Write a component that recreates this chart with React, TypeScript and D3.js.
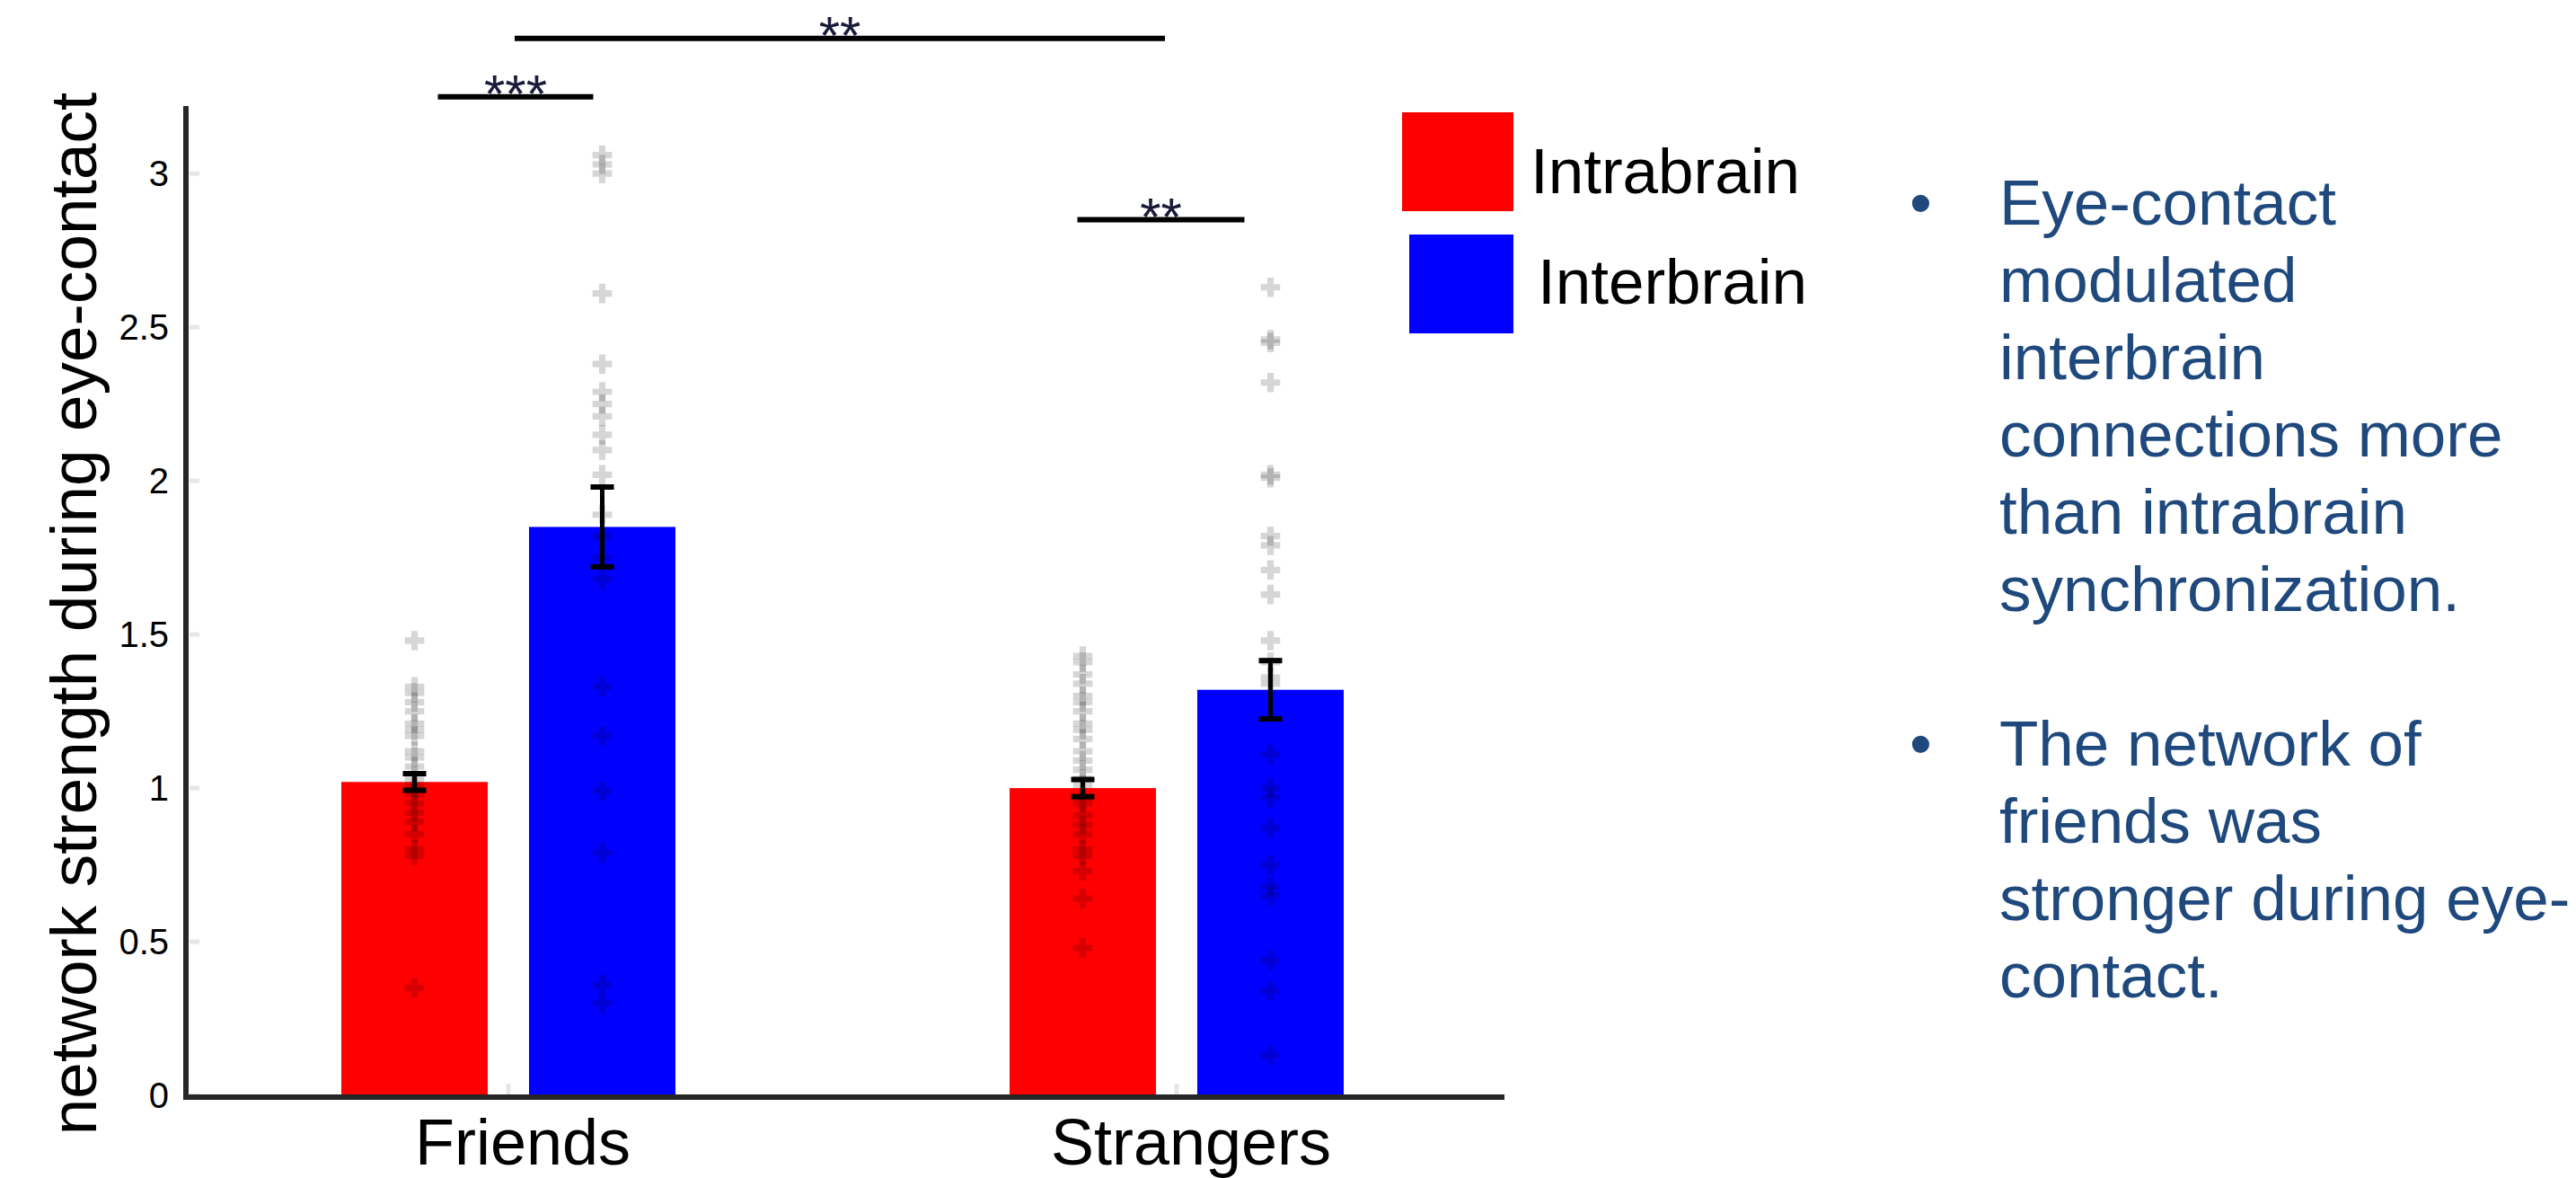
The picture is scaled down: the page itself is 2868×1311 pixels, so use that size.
import React from 'react';
import * as d3 from 'd3';

const categories = ['Friends', 'Strangers'];
const seriesNames = ['Intrabrain', 'Interbrain'];
const seriesColors = ['#ff0000', '#0000ff'];

// bar means and error (sem) per category, one array per series
const intraMeans = [1.02, 1.0];
const interMeans = [1.85, 1.32];
const intraErr = [0.027, 0.028];
const interErr = [0.13, 0.095];

// individual points
const friendsIntraPts = [1.48, 1.33, 1.31, 1.28, 1.25, 1.21, 1.19, 1.17, 1.12, 1.1, 1.07, 1.04, 1.02, 1.0, 0.98, 0.95, 0.92, 0.89, 0.85, 0.8, 0.78, 0.35];
const friendsInterPts = [3.06, 3.03, 3.0, 2.61, 2.38, 2.29, 2.25, 2.21, 2.15, 2.1, 2.02, 1.89, 1.82, 1.75, 1.68, 1.33, 1.17, 0.99, 0.79, 0.36, 0.3];
const strangersIntraPts = [1.43, 1.41, 1.37, 1.34, 1.3, 1.28, 1.25, 1.21, 1.19, 1.16, 1.12, 1.09, 1.06, 1.03, 1.01, 0.97, 0.95, 0.91, 0.88, 0.85, 0.8, 0.78, 0.73, 0.64, 0.48];
const strangersInterPts = [2.63, 2.46, 2.45, 2.32, 2.02, 2.01, 1.82, 1.79, 1.71, 1.63, 1.48, 1.41, 1.36, 1.34, 1.11, 1.0, 0.97, 0.87, 0.75, 0.68, 0.65, 0.44, 0.34, 0.13];

const yTicks = [0, 0.5, 1, 1.5, 2, 2.5, 3];

// significance brackets: endpoints as [category, series] (series null = group centre)
const brackets = [
  { from: ['Friends', 'Intrabrain'], to: ['Friends', 'Interbrain'], level: 3.25, label: '***' },
  { from: ['Friends', null], to: ['Strangers', null], level: 3.44, label: '**' },
  { from: ['Strangers', 'Intrabrain'], to: ['Strangers', 'Interbrain'], level: 2.85, label: '**' },
];
// how far each bracket end is pulled in from its anchor (px)
const bracketInsets = [[26, 10], [7, 13], [-6, 29]];

const bulletOne = ['Eye-contact', 'modulated', 'interbrain', 'connections more', 'than intrabrain', 'synchronization.'];
const bulletTwo = ['The network of', 'friends was', 'stronger during eye-', 'contact.'];

const W = 2868;
const H = 1311;
const font = '"Liberation Sans", Arial, Helvetica, sans-serif';

export default function App() {
  const axisLeft = 207;
  const axisRight = 1675;
  const axisBottom = 1221;
  const axisTop = 118;

  const y = d3.scaleLinear().domain([0, 3.22]).range([1219, axisTop]);
  const x0 = d3.scaleBand<string>().domain(categories).range([194, 1682]).paddingInner(0.5).paddingOuter(0.25);
  const x1 = d3.scaleBand<string>().domain(seriesNames).range([0, x0.bandwidth()]).paddingInner(0.22).paddingOuter(0);

  const means = [intraMeans, interMeans];
  const errs = [intraErr, interErr];
  const pts: Record<string, number[][]> = {
    Friends: [friendsIntraPts, friendsInterPts],
    Strangers: [strangersIntraPts, strangersInterPts],
  };

  const barCenter = (c: string, s: string) => (x0(c) ?? 0) + (x1(s) ?? 0) + x1.bandwidth() / 2;
  const groupCenter = (c: string) => (x0(c) ?? 0) + x0.bandwidth() / 2;
  const endX = (e: (string | null)[]) => (e[1] ? barCenter(e[0] as string, e[1]) : groupCenter(e[0] as string));

  const cross = d3.symbol().type(d3.symbolCross).size(260)();

  return (
    <div style={{ position: 'absolute', left: 0, top: 0 }}>
      <svg width={W} height={H} style={{ display: 'block', background: '#fff' }} fontFamily={font}>
        {/* bars */}
        {categories.map((c, ci) =>
          seriesNames.map((s, si) => (
            <rect
              key={c + s}
              x={(x0(c) ?? 0) + (x1(s) ?? 0)}
              y={y(means[si][ci])}
              width={x1.bandwidth()}
              height={y(0) - y(means[si][ci])}
              fill={seriesColors[si]}
            />
          ))
        )}

        {/* points */}
        {categories.map((c) =>
          seriesNames.map((s, si) =>
            pts[c][si].map((v, i) => (
              <path
                key={c + s + i}
                d={cross as string}
                transform={`translate(${barCenter(c, s)},${y(v)})`}
                fill="#000"
                fillOpacity={0.16}
              />
            ))
          )
        )}

        {/* error bars */}
        {categories.map((c, ci) =>
          seriesNames.map((s, si) => {
            const cx = barCenter(c, s);
            const top = y(means[si][ci] + errs[si][ci]);
            const bot = y(means[si][ci] - errs[si][ci]);
            return (
              <g key={'e' + c + s} stroke="#000">
                <line x1={cx} x2={cx} y1={top} y2={bot} strokeWidth={5} />
                <line x1={cx - 13} x2={cx + 13} y1={top} y2={top} strokeWidth={6} />
                <line x1={cx - 13} x2={cx + 13} y1={bot} y2={bot} strokeWidth={6} />
              </g>
            );
          })
        )}

        {/* axes */}
        {yTicks.map((t) => (
          <g key={'yt' + t}>
            <line x1={axisLeft + 4} x2={axisLeft + 15} y1={y(t)} y2={y(t)} stroke="#e6e6e6" strokeWidth={5} />
            <text x={188} y={y(t)} dy="0.35em" textAnchor="end" fontSize={40} fill="#000">
              {d3.format('')(t)}
            </text>
          </g>
        ))}
        {categories.map((c) => (
          <g key={'xt' + c}>
            <line x1={groupCenter(c)} x2={groupCenter(c)} y1={axisBottom - 15} y2={axisBottom - 3} stroke="#e6e6e6" strokeWidth={5} />
            <text x={groupCenter(c) + 16} y={1296} textAnchor="middle" fontSize={72} fill="#000">
              {c}
            </text>
          </g>
        ))}
        <line x1={axisLeft} x2={axisLeft} y1={axisTop} y2={axisBottom + 3} stroke="#262626" strokeWidth={6} />
        <line x1={axisLeft - 3} x2={axisRight} y1={axisBottom} y2={axisBottom} stroke="#262626" strokeWidth={6} />

        <text transform="translate(107,683) rotate(-90)" textAnchor="middle" fontSize={73} fill="#000">
          network strength during eye-contact
        </text>

        {/* significance brackets */}
        {brackets.map((b, i) => {
          const xa = endX(b.from) + bracketInsets[i][0];
          const xb = endX(b.to) - bracketInsets[i][1];
          const yy = y(b.level);
          return (
            <g key={'b' + i}>
              <line x1={xa} x2={xb} y1={yy} y2={yy} stroke="#000" strokeWidth={6} />
              <text x={(xa + xb) / 2} y={yy + 17} textAnchor="middle" fontSize={60} fill="#1a1a3a">
                {b.label}
              </text>
            </g>
          );
        })}

        {/* legend */}
        <rect x={1561} y={125} width={124} height={110} fill={seriesColors[0]} />
        <rect x={1569} y={261} width={116} height={110} fill={seriesColors[1]} />
        <text x={1704} y={215} fontSize={71} fill="#000">{seriesNames[0]}</text>
        <text x={1712} y={338} fontSize={71} fill="#000">{seriesNames[1]}</text>

        {/* bullet text */}
        <g fill="#1F497D" fontSize={71}>
          <text x={2126} y={250}>•</text>
          {bulletOne.map((l, i) => (
            <text key={'a' + i} x={2226} y={250 + i * 86}>{l}</text>
          ))}
          <text x={2126} y={250 + 7 * 86}>•</text>
          {bulletTwo.map((l, i) => (
            <text key={'b' + i} x={2226} y={250 + (7 + i) * 86}>{l}</text>
          ))}
        </g>
      </svg>
    </div>
  );
}
